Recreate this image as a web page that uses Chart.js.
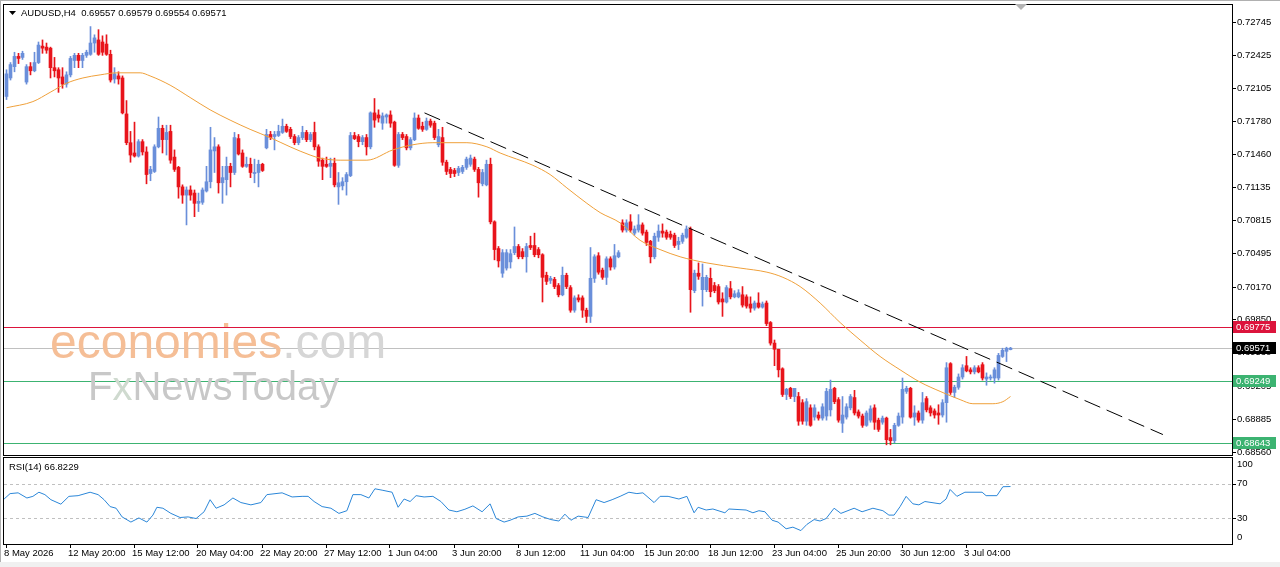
<!DOCTYPE html>
<html lang="en">
<head>
<meta charset="utf-8">
<title>AUDUSD H4</title>
<script src="https://cdn.jsdelivr.net/npm/chart.js@4.4.1/dist/chart.umd.min.js"></script>
<style>
  html, body { margin: 0; padding: 0; background: #fff; }
  #wrap { position: relative; width: 1280px; height: 567px; overflow: hidden; background: #fff; }
  #wrap canvas { position: absolute; left: 0; }
  #price { top: 0; }
  #rsi { top: 457px; }
</style>
</head>
<body>
<div id="wrap">
  <canvas id="price" width="1280" height="457"></canvas>
  <canvas id="rsi" width="1280" height="110"></canvas>
</div>
<script>
// ── Candles (AUDUSD H4), one value per bar ───────────────────────────────────
const opens = [
  0.7202,0.7220,0.7231,0.7241,0.7240,0.7216,0.7231,0.7227,0.7235,0.7251,0.7250,0.7249,0.7230,0.7228,0.7221,0.7214,
  0.7223,0.7237,0.7242,0.7237,0.7242,0.7243,0.7254,0.7257,0.7255,0.7253,0.7243,0.7219,0.7222,0.7220,0.7185,0.7157,
  0.7147,0.7144,0.7158,0.7148,0.7127,0.7129,0.7153,0.7171,0.7160,0.7168,0.7143,0.7133,0.7114,0.7106,0.7111,0.7108,
  0.7098,0.7099,0.7110,0.7119,0.7149,0.7153,0.7118,0.7121,0.7134,0.7128,0.7161,0.7147,0.7134,0.7136,0.7127,0.7128,
  0.7136,0.7152,0.7165,0.7163,0.7164,0.7167,0.7173,0.7170,0.7163,0.7157,0.7162,0.7167,0.7160,0.7167,0.7153,0.7140,
  0.7136,0.7134,0.7137,0.7114,0.7115,0.7119,0.7125,0.7164,0.7163,0.7158,0.7162,0.7153,0.7186,0.7184,0.7176,0.7182,
  0.7184,0.7177,0.7135,0.7165,0.7163,0.7152,0.7160,0.7181,0.7173,0.7170,0.7178,0.7176,0.7155,0.7162,0.7138,0.7131,
  0.7130,0.7128,0.7129,0.7133,0.7136,0.7141,0.7131,0.7117,0.7116,0.7136,0.7080,0.7054,0.7030,0.7035,0.7041,0.7050,
  0.7056,0.7051,0.7046,0.7057,0.7057,0.7053,0.7048,0.7028,0.7023,0.7024,0.7018,0.7009,0.7028,0.7016,0.6994,0.7006,
  0.7006,0.6994,0.6988,0.7025,0.7047,0.7033,0.7026,0.7044,0.7036,0.7046,0.7079,0.7072,0.7080,0.7069,0.7072,0.7077,
  0.7070,0.7061,0.7046,0.7065,0.7071,0.7070,0.7068,0.7067,0.7058,0.7061,0.7065,0.7073,0.7013,0.7030,0.7014,0.7014,
  0.7025,0.7018,0.7017,0.7005,0.7002,0.7015,0.7007,0.7007,0.7009,0.7007,0.7000,0.6996,0.7001,0.6997,0.7001,0.6982,
  0.6962,0.6956,0.6937,0.6912,0.6918,0.6910,0.6910,0.6904,0.6886,0.6899,0.6890,0.6892,0.6889,0.6891,0.6897,0.6918,
  0.6907,0.6884,0.6890,0.6899,0.6909,0.6895,0.6891,0.6882,0.6887,0.6899,0.6887,0.6885,0.6889,0.6870,0.6867,0.6882,
  0.6890,0.6915,0.6918,0.6890,0.6894,0.6887,0.6908,0.6899,0.6896,0.6894,0.6892,0.6904,0.6942,0.6914,0.6919,0.6929,
  0.6940,0.6936,0.6934,0.6938,0.6941,0.6927,0.6928,0.6928,0.6928,0.6949,0.6954,0.69557,
];
const highs = [
  0.7228,0.7235,0.7245,0.7244,0.7246,0.7233,0.7235,0.7245,0.7255,0.7257,0.7254,0.7250,0.7240,0.7230,0.7230,0.7226,
  0.7241,0.7244,0.7244,0.7244,0.7247,0.7270,0.7262,0.7267,0.7261,0.7262,0.7247,0.7230,0.7226,0.7222,0.7198,0.7168,
  0.7177,0.7160,0.7160,0.7153,0.7134,0.7155,0.7182,0.7174,0.7174,0.7174,0.7150,0.7134,0.7116,0.7114,0.7115,0.7111,
  0.7108,0.7113,0.7134,0.7172,0.7162,0.7155,0.7134,0.7143,0.7137,0.7167,0.7165,0.7150,0.7143,0.7142,0.7141,0.7140,
  0.7137,0.7170,0.7168,0.7168,0.7174,0.7180,0.7175,0.7172,0.7165,0.7164,0.7173,0.7169,0.7167,0.7177,0.7155,0.7142,
  0.7143,0.7142,0.7142,0.7128,0.7123,0.7128,0.7167,0.7167,0.7165,0.7164,0.7165,0.7187,0.7200,0.7189,0.7186,0.7185,
  0.7188,0.7178,0.7167,0.7167,0.7165,0.7162,0.7186,0.7184,0.7177,0.7181,0.7180,0.7178,0.7170,0.7172,0.7140,0.7133,
  0.7132,0.7134,0.7135,0.7143,0.7145,0.7143,0.7133,0.7131,0.7140,0.7142,0.7081,0.7056,0.7053,0.7053,0.7053,0.7075,
  0.7058,0.7054,0.7059,0.7066,0.7069,0.7055,0.7049,0.7031,0.7027,0.7026,0.7020,0.7036,0.7030,0.7018,0.7008,0.7009,
  0.7008,0.6996,0.7055,0.7048,0.7050,0.7035,0.7046,0.7046,0.7058,0.7052,0.7082,0.7082,0.7087,0.7076,0.7087,0.7079,
  0.7072,0.7062,0.7069,0.7077,0.7078,0.7072,0.7071,0.7069,0.7065,0.7069,0.7076,0.7075,0.7033,0.7040,0.7039,0.7028,
  0.7035,0.7021,0.7019,0.7011,0.7018,0.7022,0.7013,0.7014,0.7017,0.7009,0.7007,0.7003,0.7011,0.7002,0.7003,0.6983,
  0.6965,0.6956,0.6938,0.6918,0.6919,0.6918,0.6914,0.6907,0.6908,0.6902,0.6902,0.6895,0.6903,0.6918,0.6926,0.6919,
  0.6909,0.6910,0.6903,0.6912,0.6916,0.6897,0.6893,0.6896,0.6901,0.6902,0.6889,0.6891,0.6890,0.6878,0.6884,0.6894,
  0.6928,0.6920,0.6919,0.6901,0.6896,0.6914,0.6910,0.6901,0.6898,0.6902,0.6907,0.6943,0.6943,0.6921,0.6932,0.6941,
  0.6949,0.6938,0.6940,0.6940,0.6943,0.6933,0.6931,0.6938,0.6952,0.6957,0.6958,0.69579,
];
const lows = [
  0.7199,0.7218,0.7226,0.7234,0.7238,0.7214,0.7223,0.7226,0.7234,0.7244,0.7244,0.7220,0.7221,0.7206,0.7210,0.7211,
  0.7221,0.7230,0.7230,0.7230,0.7240,0.7242,0.7245,0.7242,0.7242,0.7242,0.7216,0.7215,0.7214,0.7185,0.7155,0.7138,
  0.7143,0.7143,0.7145,0.7117,0.7120,0.7128,0.7152,0.7147,0.7145,0.7137,0.7129,0.7103,0.7098,0.7077,0.7101,0.7085,
  0.7090,0.7097,0.7109,0.7113,0.7128,0.7108,0.7098,0.7106,0.7114,0.7126,0.7145,0.7133,0.7133,0.7123,0.7118,0.7114,
  0.7129,0.7151,0.7160,0.7150,0.7163,0.7166,0.7167,0.7161,0.7155,0.7155,0.7160,0.7158,0.7158,0.7150,0.7134,0.7121,
  0.7133,0.7123,0.7114,0.7097,0.7111,0.7106,0.7124,0.7160,0.7153,0.7155,0.7145,0.7151,0.7172,0.7177,0.7170,0.7176,
  0.7172,0.7134,0.7133,0.7160,0.7150,0.7150,0.7159,0.7170,0.7168,0.7169,0.7172,0.7160,0.7153,0.7135,0.7126,0.7123,
  0.7124,0.7125,0.7127,0.7131,0.7134,0.7129,0.7104,0.7115,0.7115,0.7078,0.7043,0.7036,0.7026,0.7033,0.7035,0.7048,
  0.7044,0.7044,0.7031,0.7053,0.7046,0.7045,0.7002,0.7019,0.7020,0.7015,0.7007,0.7008,0.7015,0.6992,0.6992,0.7002,
  0.6987,0.6982,0.6982,0.7021,0.7029,0.7024,0.7019,0.7033,0.7034,0.7045,0.7070,0.7070,0.7070,0.7067,0.7070,0.7067,
  0.7057,0.7040,0.7044,0.7061,0.7065,0.7063,0.7063,0.7055,0.7053,0.7059,0.7064,0.6992,0.7011,0.7024,0.6998,0.7012,
  0.7007,0.7011,0.7000,0.6988,0.7001,0.7005,0.7006,0.7006,0.6997,0.6996,0.6992,0.6994,0.6996,0.6996,0.6979,0.6960,
  0.6940,0.6929,0.6910,0.6907,0.6908,0.6905,0.6882,0.6883,0.6882,0.6881,0.6887,0.6887,0.6887,0.6887,0.6891,0.6903,
  0.6885,0.6875,0.6888,0.6897,0.6892,0.6889,0.6880,0.6881,0.6885,0.6878,0.6876,0.6883,0.6863,0.6863,0.6865,0.6881,
  0.6884,0.6913,0.6889,0.6882,0.6885,0.6884,0.6895,0.6891,0.6889,0.6883,0.6890,0.6885,0.6912,0.6909,0.6917,0.6927,
  0.6934,0.6932,0.6932,0.6933,0.6926,0.6921,0.6926,0.6923,0.6926,0.6948,0.6944,0.69554,
];
const closes = [
  0.7224,0.7233,0.7241,0.7239,0.7244,0.7231,0.7227,0.7235,0.7252,0.7249,0.7247,0.7230,0.7227,0.7220,0.7214,0.7223,
  0.7239,0.7242,0.7237,0.7242,0.7245,0.7254,0.7259,0.7243,0.7245,0.7243,0.7218,0.7224,0.7219,0.7186,0.7157,0.7145,
  0.7144,0.7158,0.7148,0.7126,0.7131,0.7153,0.7171,0.7160,0.7167,0.7140,0.7131,0.7114,0.7106,0.7111,0.7106,0.7098,
  0.7100,0.7111,0.7119,0.7150,0.7153,0.7118,0.7123,0.7134,0.7128,0.7162,0.7146,0.7134,0.7136,0.7128,0.7128,0.7136,
  0.7130,0.7165,0.7162,0.7165,0.7168,0.7173,0.7168,0.7163,0.7157,0.7162,0.7167,0.7160,0.7165,0.7153,0.7139,0.7134,
  0.7134,0.7137,0.7116,0.7118,0.7119,0.7126,0.7164,0.7161,0.7158,0.7162,0.7153,0.7186,0.7179,0.7181,0.7183,0.7184,
  0.7176,0.7135,0.7165,0.7162,0.7152,0.7160,0.7181,0.7171,0.7170,0.7178,0.7174,0.7162,0.7163,0.7138,0.7129,0.7127,
  0.7127,0.7132,0.7133,0.7141,0.7142,0.7131,0.7118,0.7128,0.7136,0.7080,0.7053,0.7042,0.7050,0.7050,0.7049,0.7056,
  0.7046,0.7046,0.7056,0.7055,0.7048,0.7048,0.7026,0.7022,0.7025,0.7017,0.7009,0.7028,0.7017,0.6994,0.7006,0.7004,
  0.6994,0.6988,0.7025,0.7046,0.7031,0.7026,0.7044,0.7036,0.7047,0.7050,0.7072,0.7079,0.7072,0.7073,0.7077,0.7069,
  0.7060,0.7046,0.7066,0.7071,0.7069,0.7065,0.7065,0.7057,0.7061,0.7067,0.7073,0.7014,0.7030,0.7027,0.7026,0.7026,
  0.7012,0.7013,0.7002,0.7002,0.7016,0.7007,0.7010,0.7011,0.6999,0.6998,0.6996,0.7001,0.6997,0.7000,0.6981,0.6962,
  0.6956,0.6936,0.6912,0.6917,0.6910,0.6918,0.6886,0.6886,0.6905,0.6882,0.6899,0.6889,0.6900,0.6915,0.6917,0.6905,
  0.6887,0.6892,0.6900,0.6910,0.6894,0.6891,0.6882,0.6894,0.6898,0.6885,0.6878,0.6889,0.6868,0.6867,0.6882,0.6891,
  0.6917,0.6918,0.6890,0.6894,0.6887,0.6904,0.6897,0.6894,0.6892,0.6892,0.6904,0.6938,0.6914,0.6919,0.6929,0.6938,
  0.6935,0.6934,0.6938,0.6934,0.6928,0.6929,0.6929,0.6936,0.6950,0.6955,0.6957,0.69571,
];

// ── Moving average (read at bar positions) ───────────────────────────────────
const maBars = [0, 6.6, 10.9, 15.1, 19.1, 23.4, 27.6, 33.4, 35.9, 40.9, 45.9, 50.9, 55.9, 60.9, 65.9, 70.9,
  75.9, 78.4, 83.4, 90.1, 96.6, 101.6, 106.6, 115.1, 120.1, 123.4, 131.6, 135.9, 140.1, 145.1, 148.4, 153.4,
  158.4, 163.4, 168.4, 175.1, 183.4, 190.1, 194.1, 198.4, 203.4, 208.4, 213.4, 218.4, 223.4, 228.4, 233.4,
  238.4, 241.6, 246.6, 249.1, 251];
const maVals = [0.7191, 0.7197, 0.7206, 0.7215, 0.7220, 0.7223, 0.7225, 0.7225, 0.7222, 0.7213, 0.7201, 0.7189,
  0.7179, 0.7170, 0.7162, 0.7153, 0.7145, 0.7142, 0.7140, 0.7140, 0.7150, 0.7155, 0.7157, 0.7157, 0.7153,
  0.7147, 0.7135, 0.7126, 0.7113, 0.7098, 0.7089, 0.7079, 0.7062, 0.7053, 0.7046, 0.7040, 0.7035, 0.7031,
  0.7026, 0.7017, 0.7001, 0.6982, 0.6965, 0.6949, 0.6936, 0.6924, 0.6915, 0.6907, 0.6903, 0.6903, 0.6905,
  0.6910];

// ── Trend line and horizontal levels ─────────────────────────────────────────
const trendBars = [104.5, 289.1];
const trendVals = [0.7186, 0.6873];
const levels      = [0.69775, 0.69571, 0.69249, 0.68643];
const levelLines  = ['#DC143C', '#C0C0C0', '#3CB371', '#3CB371'];
const levelBoxes  = ['#DC143C', '#000000', '#3CB371', '#3CB371'];

// ── RSI(14) (read at bar positions) ──────────────────────────────────────────
const rsiBars = [-0.6, 0.9, 2.9, 5.1, 6.6, 8.1, 9.6, 11.1, 13.6, 15.6, 17.9, 20.9, 22.9, 24.4, 25.9, 27.4,
  28.9, 31.1, 33.1, 35.1, 36.6, 37.6, 39.1, 41.1, 43.4, 45.4, 47.4, 49.4, 50.9, 52.4, 54.4, 56.6, 58.6, 61.1,
  63.6, 65.1, 68.9, 71.4, 73.9, 75.4, 76.9, 78.9, 81.1, 83.1, 85.1, 86.6, 88.6, 90.6, 92.1, 93.9, 96.4, 97.9,
  99.4, 100.9, 102.4, 104.4, 106.6, 108.6, 110.6, 112.6, 114.6, 116.6, 118.9, 120.9, 122.4, 124.4, 125.9,
  127.9, 130.1, 132.1, 134.1, 136.1, 138.1, 139.6, 141.1, 142.9, 145.4, 147.4, 149.4, 151.4, 153.4, 155.6,
  157.6, 159.1, 161.9, 163.4, 165.4, 168.1, 170.1, 171.9, 172.9, 174.9, 176.6, 179.6, 180.6, 184.9, 186.6,
  188.1, 189.6, 191.4, 192.9, 194.9, 196.6, 198.6, 200.1, 201.9, 203.4, 204.9, 206.9, 208.6, 211.9, 213.9,
  216.6, 219.1, 220.6, 221.9, 223.4, 224.9, 226.6, 228.1, 229.6, 233.4, 234.9, 235.9, 237.6, 239.6, 243.9,
  244.9, 247.6, 249.1, 251];
const rsiVals = [52.3, 58.6, 59.5, 53.5, 55.4, 60.2, 57.4, 51.5, 46.3, 55.4, 56.2, 60.2, 57.4, 51.5, 43.5, 41.6,
  31.5, 25.5, 30.3, 25.5, 33.6, 42.7, 41.6, 35.6, 30.8, 31.5, 29.6, 37.5, 51.5, 41.6, 45.5, 53.5, 48.2, 45.5,
  48.2, 57.4, 59.5, 54.7, 55.4, 55.4, 49.4, 43.5, 41.6, 35.6, 38.7, 57.4, 57.4, 53.5, 64.2, 62.6, 60.2, 42.7,
  52.3, 49.4, 56.2, 54.7, 55.4, 49.4, 39.5, 37.5, 40.4, 44.3, 37.5, 46.7, 29.6, 25.5, 27.6, 31.5, 32.4, 35.6,
  31.5, 28.4, 26.7, 34.7, 27.6, 32.4, 30.8, 51.5, 48.2, 51.5, 55.4, 60.2, 58.6, 59.5, 48.2, 55.4, 55.4, 52.3,
  55.4, 36.3, 42.7, 39.5, 40.7, 36.3, 40.7, 39.5, 36.3, 38.7, 37.5, 27.6, 25.5, 17.7, 19.6, 15.6, 22.8, 28.4,
  26.7, 29.6, 41.6, 35.6, 41.6, 37.5, 41.6, 38.7, 33.6, 33.6, 43.5, 55.4, 46.7, 45.5, 49.4, 46.7, 52.3, 63.4,
  55.4, 60.2, 60.2, 56.2, 56.2, 66.6, 66.8229];
const rsiLevels = [70, 30];

// ── Axis ticks ───────────────────────────────────────────────────────────────
const priceTicks = [0.72745, 0.72425, 0.72105, 0.71780, 0.71460, 0.71135, 0.70815, 0.70495,
  0.70170, 0.69850, 0.69530, 0.69205, 0.68885, 0.68560];
const rsiTicks = [100, 70, 30, 0];
const timeLabels = ['8 May 2026', '12 May 20:00', '15 May 12:00', '20 May 04:00', '22 May 20:00',
  '27 May 12:00', '1 Jun 04:00', '3 Jun 20:00', '8 Jun 12:00', '11 Jun 04:00', '15 Jun 20:00',
  '18 Jun 12:00', '23 Jun 04:00', '25 Jun 20:00', '30 Jun 12:00', '3 Jul 04:00'];
const BARS_PER_LABEL = 16;

// ── Look ─────────────────────────────────────────────────────────────────────
const BULL = '#6A8FDA';
const BEAR = '#E8141B';
const MA_COLOR = '#EFA03A';
const RSI_COLOR = '#2A86D8';
const FONT = '9.5px "Liberation Sans", Arial, sans-serif';
const X_MIN = -0.625, X_MAX = 306.375;   // 4 px per bar
const Y_MIN = 0.68531, Y_MAX = 0.72910;

const idx = closes.map((_, i) => i);
const candleColors = idx.map(i => closes[i] >= opens[i] ? BULL : BEAR);

// crisp full-width horizontal rule at a scale value
function rule(ctx, a, scale, v, color, dash) {
  const py = Math.round(scale.getPixelForValue(v)) + 0.5;
  ctx.strokeStyle = color;
  ctx.setLineDash(dash || []);
  ctx.beginPath(); ctx.moveTo(a.left, py); ctx.lineTo(a.right, py); ctx.stroke();
  ctx.setLineDash([]);
}

const common = {
  responsive: false,
  animation: false,
  devicePixelRatio: 1,
  events: [],
  plugins: { legend: { display: false }, tooltip: { enabled: false } },
};

// ── Price panel decorations ──────────────────────────────────────────────────
const priceDecor = {
  id: 'priceDecor',
  beforeDatasetsDraw(chart) {
    const { ctx, chartArea: a } = chart;
    ctx.save();
    ctx.lineWidth = 1;
    levels.forEach((v, i) => rule(ctx, a, chart.scales.y, v, levelLines[i]));
    ctx.restore();
  },
  afterDatasetsDraw(chart) {
    const ctx = chart.ctx;
    ctx.save();
    ctx.textAlign = 'left';
    ctx.textBaseline = 'alphabetic';
    ctx.font = '48px "Liberation Sans", Arial, sans-serif';
    ctx.fillStyle = '#F5BE96';
    ctx.fillText('economies', 50, 358);
    const w = ctx.measureText('economies').width;
    ctx.fillStyle = '#D6D6D6';
    ctx.fillText('.com', 50 + w, 358);
    ctx.font = '40px "Liberation Sans", Arial, sans-serif';
    let x = 88;
    ctx.fillStyle = '#C8C8C8';
    ctx.fillText('F', x, 400);
    x += ctx.measureText('F').width;
    ctx.fillStyle = '#CFDACF';
    ctx.fillText('x', x, 400);
    x += ctx.measureText('x').width;
    ctx.fillStyle = '#C8C8C8';
    ctx.fillText('NewsToday', x, 400);
    ctx.restore();
  },
  afterDraw(chart) {
    const { ctx, chartArea: a } = chart;
    const y = chart.scales.y;
    ctx.save();
    ctx.strokeStyle = '#000';
    ctx.lineWidth = 1;
    ctx.strokeRect(a.left - 0.5, a.top - 0.5, a.right - a.left + 1, a.bottom - a.top + 1);
    ctx.strokeStyle = '#B0B0B0';
    ctx.beginPath(); ctx.moveTo(0.5, 0); ctx.lineTo(0.5, 457); ctx.moveTo(0, 0.5); ctx.lineTo(1280, 0.5); ctx.stroke();

    // header
    ctx.fillStyle = '#000';
    ctx.beginPath(); ctx.moveTo(9, 11); ctx.lineTo(16, 11); ctx.lineTo(12.5, 15); ctx.closePath(); ctx.fill();
    ctx.font = FONT;
    ctx.textBaseline = 'middle';
    ctx.fillText('AUDUSD,H4  0.69557 0.69579 0.69554 0.69571', 21, 13);

    // shift marker
    ctx.fillStyle = '#B4B4B4';
    ctx.beginPath(); ctx.moveTo(1015, 4); ctx.lineTo(1027, 4); ctx.lineTo(1021, 10); ctx.closePath(); ctx.fill();

    // price scale
    ctx.strokeStyle = '#000';
    ctx.fillStyle = '#000';
    priceTicks.forEach(v => {
      const py = Math.round(y.getPixelForValue(v)) + 0.5;
      ctx.beginPath(); ctx.moveTo(a.right, py); ctx.lineTo(a.right + 4, py); ctx.stroke();
      ctx.fillText(v.toFixed(5), a.right + 5, py);
    });
    levels.forEach((v, i) => {
      const py = Math.round(y.getPixelForValue(v));
      ctx.fillStyle = levelBoxes[i];
      ctx.fillRect(a.right + 1, py - 6, 43, 12);
      ctx.fillStyle = '#fff';
      ctx.fillText(v.toFixed(5), a.right + 4, py + 0.5);
    });
    ctx.restore();
  },
};

new Chart(document.getElementById('price'), {
  type: 'bar',
  data: {
    datasets: [
      {
        type: 'line', data: trendBars.map((b, i) => ({ x: b, y: trendVals[i] })),
        borderColor: '#000', borderWidth: 1, borderDash: [17, 7], pointRadius: 0, order: 0,
      },
      {
        type: 'line', data: maBars.map((b, i) => ({ x: b, y: maVals[i] })),
        borderColor: MA_COLOR, borderWidth: 1, pointRadius: 0, cubicInterpolationMode: 'monotone', order: 1,
      },
      {
        data: idx.map(i => ({ x: i, y: [opens[i], closes[i]] })),
        backgroundColor: candleColors, borderWidth: 0, barThickness: 3, minBarLength: 1,
        grouped: false, order: 2,
      },
      {
        data: idx.map(i => ({ x: i, y: [lows[i], highs[i]] })),
        backgroundColor: candleColors, borderWidth: 0, barThickness: 1,
        grouped: false, order: 3,
      },
    ],
  },
  options: {
    ...common,
    layout: { padding: { left: 4, right: 48, top: 5, bottom: 2 } },
    scales: {
      x: { type: 'linear', display: false, min: X_MIN, max: X_MAX, offset: false, grid: { offset: false } },
      y: { type: 'linear', display: false, min: Y_MIN, max: Y_MAX, beginAtZero: false },
    },
  },
  plugins: [priceDecor],
});

// ── RSI panel ────────────────────────────────────────────────────────────────
const rsiDecor = {
  id: 'rsiDecor',
  beforeDatasetsDraw(chart) {
    const { ctx, chartArea: a } = chart;
    ctx.save();
    ctx.lineWidth = 1;
    rsiLevels.forEach(v => rule(ctx, a, chart.scales.y, v, '#C0C0C0', [3, 3]));
    ctx.restore();
  },
  afterDraw(chart) {
    const { ctx, chartArea: a } = chart;
    const { x, y } = chart.scales;
    ctx.save();
    ctx.fillStyle = '#F0F0F0';
    ctx.fillRect(0, 105, 1280, 5);
    ctx.strokeStyle = '#B0B0B0';
    ctx.beginPath(); ctx.moveTo(0.5, 0); ctx.lineTo(0.5, 105); ctx.stroke();
    ctx.strokeStyle = '#000';
    ctx.lineWidth = 1;
    ctx.strokeRect(a.left - 0.5, a.top - 0.5, a.right - a.left + 1, a.bottom - a.top + 1);

    ctx.font = FONT;
    ctx.fillStyle = '#000';
    ctx.textBaseline = 'middle';
    ctx.textAlign = 'left';
    ctx.fillText('RSI(14) 66.8229', 9, 10);

    rsiTicks.forEach(v => {
      const raw = y.getPixelForValue(v);
      const py = Math.min(Math.max(raw, a.top + 6), a.bottom - 7);
      if (v > 0 && v < 100) {
        const ty = Math.round(raw) + 0.5;
        ctx.beginPath(); ctx.moveTo(a.right, ty); ctx.lineTo(a.right + 4, ty); ctx.stroke();
      }
      ctx.fillText(String(v), a.right + 5, py);
    });

    timeLabels.forEach((t, j) => {
      const px = x.getPixelForValue(j * BARS_PER_LABEL);
      const tx = Math.round(px) - 0.5;
      ctx.beginPath(); ctx.moveTo(tx, a.bottom); ctx.lineTo(tx, a.bottom + 4); ctx.stroke();
      ctx.fillText(t, px - 2.5, 96);
    });
    ctx.restore();
  },
};

new Chart(document.getElementById('rsi'), {
  type: 'line',
  data: {
    datasets: [
      {
        data: rsiBars.map((b, i) => ({ x: b, y: rsiVals[i] })),
        borderColor: RSI_COLOR, borderWidth: 1, pointRadius: 0, tension: 0,
      },
    ],
  },
  options: {
    ...common,
    layout: { padding: { left: 4, right: 48, top: 1, bottom: 23 } },
    scales: {
      x: { type: 'linear', display: false, min: X_MIN, max: X_MAX },
      y: { type: 'linear', display: false, min: 0, max: 100 },
    },
  },
  plugins: [rsiDecor],
});
</script>
</body>
</html>
